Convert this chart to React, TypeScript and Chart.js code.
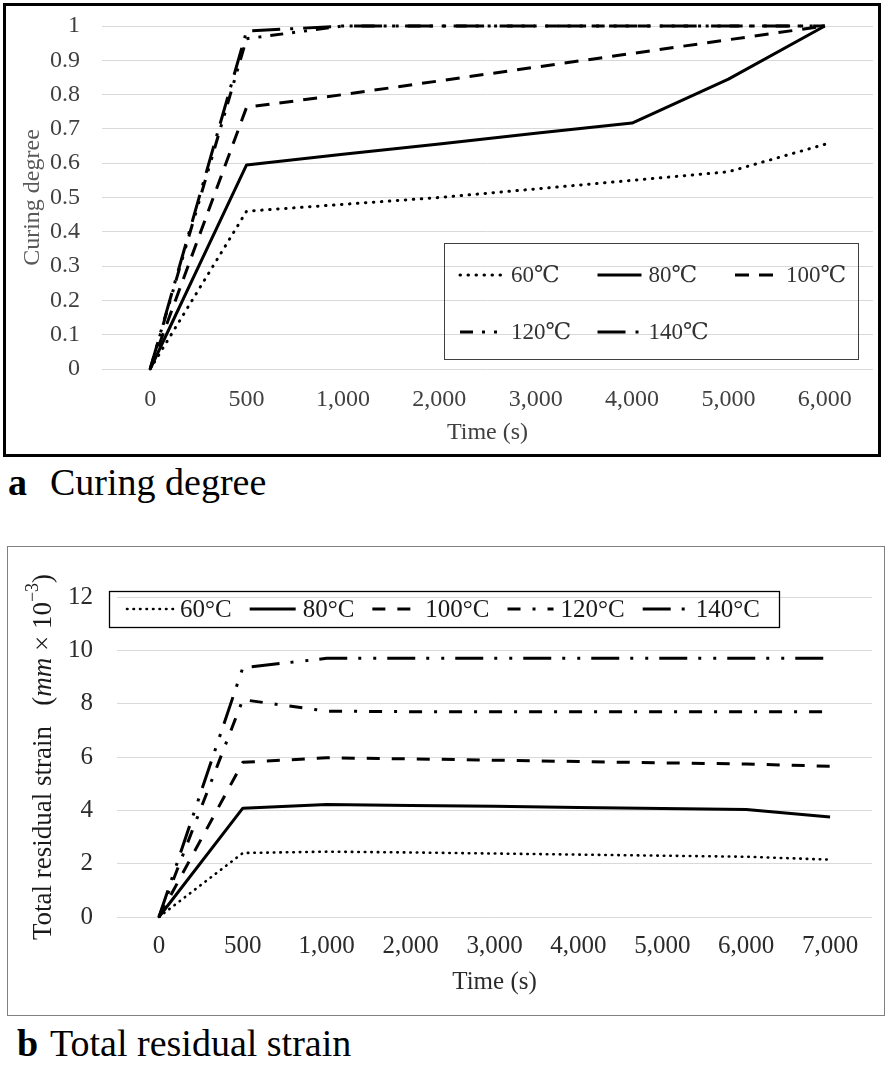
import React, { useEffect, useRef } from 'react';
import { Chart, registerables } from 'chart.js';

Chart.register(...registerables);

const SERIF = "'Liberation Serif', 'Times New Roman', 'DejaVu Serif', serif";

// ---------- Panel a: curing degree ----------
const timeLabelsA = ['0', '500', '1,000', '2,000', '3,000', '4,000', '5,000', '6,000'];
const yTicksA = ['0', '0.1', '0.2', '0.3', '0.4', '0.5', '0.6', '0.7', '0.8', '0.9', '1'];
const seriesNamesA = ['60℃', '80℃', '100℃', '120℃', '140℃'];
const cure60 = [0, 0.46, 0.48, 0.5, 0.525, 0.55, 0.575, 0.655];
const cure80 = [0, 0.595, 0.626, 0.656, 0.687, 0.717, 0.845, 1.0];
const cure100 = [0, 0.763, 0.8, 0.84, 0.88, 0.92, 0.96, 1.0];
const cure120 = [0, 0.963, 1, 1, 1, 1, 1, 1];
const cure140 = [0, 0.985, 1, 1, 1, 1, 1, 1];

// ---------- Panel b: total residual strain ----------
const timeLabelsB = ['0', '500', '1,000', '2,000', '3,000', '4,000', '5,000', '6,000', '7,000'];
const yTicksB = ['0', '2', '4', '6', '8', '10', '12'];
const seriesNamesB = ['60°C', '80°C', '100°C', '120°C', '140°C'];
const strain60 = [0, 2.4, 2.45, 2.42, 2.38, 2.34, 2.3, 2.26, 2.15];
const strain80 = [0, 4.08, 4.22, 4.18, 4.15, 4.11, 4.07, 4.03, 3.75];
const strain100 = [0, 5.8, 5.97, 5.93, 5.88, 5.83, 5.78, 5.74, 5.65];
const strain120 = [0, 8.15, 7.72, 7.7, 7.7, 7.7, 7.7, 7.7, 7.7];
const strain140 = [0, 9.35, 9.7, 9.7, 9.7, 9.7, 9.7, 9.7, 9.7];

type LineStyle = { dash: number[]; width: number; cap: CanvasLineCap };

const stylesA: LineStyle[] = [
  { dash: [0.5, 7.5], width: 3, cap: 'round' },
  { dash: [], width: 3, cap: 'butt' },
  { dash: [14, 10], width: 3, cap: 'butt' },
  { dash: [13, 9, 3, 9, 3, 9], width: 3, cap: 'butt' },
  { dash: [28, 10, 3, 10], width: 3, cap: 'butt' },
];

const stylesB: LineStyle[] = [
  { dash: [0.5, 6], width: 2.6, cap: 'round' },
  { dash: [], width: 3, cap: 'butt' },
  { dash: [13, 12], width: 3, cap: 'butt' },
  { dash: [13, 12, 3, 12], width: 3, cap: 'butt' },
  { dash: [28, 11, 3, 12, 3, 11], width: 3, cap: 'butt' },
];

function makeDatasets(names: string[], series: number[][], styles: LineStyle[]) {
  return names.map((name, i) => ({
    label: name,
    data: series[i],
    borderColor: '#000',
    backgroundColor: '#000',
    borderWidth: styles[i].width,
    borderDash: styles[i].dash,
    borderCapStyle: styles[i].cap,
    borderJoinStyle: 'round' as CanvasLineJoin,
    pointRadius: 0,
    tension: 0,
    fill: false,
    clip: false as any,
  }));
}

type LegendCfg = {
  box: { x: number; y: number; w: number; h: number };
  borderColor: string;
  borderWidth: number;
  font: string;
  color: string;
  sampleLen: number;
  textGap: number;
  mode: 'grid' | 'flow';
  x0: number;
  rows?: number[];
  cols?: number;
  colW?: number;
  rowY?: number;
  itemGap?: number;
};

function makeLegendPlugin(cfg: LegendCfg) {
  return {
    id: 'boxLegend',
    afterDatasetsDraw(chart: any) {
      const ctx: CanvasRenderingContext2D = chart.ctx;
      ctx.save();
      ctx.strokeStyle = cfg.borderColor;
      ctx.lineWidth = cfg.borderWidth;
      ctx.setLineDash([]);
      ctx.strokeRect(cfg.box.x + 0.5, cfg.box.y + 0.5, cfg.box.w, cfg.box.h);
      ctx.font = cfg.font;
      ctx.textBaseline = 'middle';
      ctx.textAlign = 'left';
      let flowX = cfg.x0;
      chart.data.datasets.forEach((ds: any, i: number) => {
        let x: number;
        let y: number;
        if (cfg.mode === 'grid') {
          const col = i % (cfg.cols as number);
          const row = Math.floor(i / (cfg.cols as number));
          x = cfg.x0 + col * (cfg.colW as number);
          y = (cfg.rows as number[])[row];
        } else {
          x = flowX;
          y = cfg.rowY as number;
        }
        ctx.save();
        ctx.strokeStyle = ds.borderColor;
        ctx.lineWidth = ds.borderWidth;
        ctx.lineCap = ds.borderCapStyle;
        ctx.setLineDash(ds.borderDash || []);
        ctx.beginPath();
        ctx.moveTo(x, y);
        ctx.lineTo(x + cfg.sampleLen, y);
        ctx.stroke();
        ctx.restore();
        ctx.fillStyle = cfg.color;
        const tx = x + cfg.sampleLen + cfg.textGap;
        ctx.fillText(ds.label, tx, y + 1);
        if (cfg.mode === 'flow') {
          flowX = tx + ctx.measureText(ds.label).width + (cfg.itemGap as number);
        }
      });
      ctx.restore();
    },
  };
}

type Part = { text: string; italic?: boolean; sup?: boolean };

function makeRichTitlePlugin(parts: Part[], x: number, size: number, color: string) {
  const fontFor = (p: Part) =>
    `${p.italic ? 'italic ' : ''}${p.sup ? Math.round(size * 0.68) : size}px ${SERIF}`;
  return {
    id: 'richYTitle',
    afterDraw(chart: any) {
      const ctx: CanvasRenderingContext2D = chart.ctx;
      const area = chart.chartArea;
      ctx.save();
      const widths = parts.map((p) => {
        ctx.font = fontFor(p);
        return ctx.measureText(p.text).width;
      });
      const total = widths.reduce((a, b) => a + b, 0);
      const cy = (area.top + area.bottom) / 2;
      ctx.translate(x, cy);
      ctx.rotate(-Math.PI / 2);
      ctx.fillStyle = color;
      ctx.textBaseline = 'middle';
      ctx.textAlign = 'left';
      let px = -total / 2;
      parts.forEach((p, i) => {
        ctx.font = fontFor(p);
        ctx.fillText(p.text, px, p.sup ? -size * 0.38 : 0);
        px += widths[i];
      });
      ctx.restore();
    },
  };
}

function CurvePanel() {
  const ref = useRef<HTMLCanvasElement | null>(null);
  useEffect(() => {
    const tickColor = '#404040';
    const chart = new Chart(ref.current as HTMLCanvasElement, {
      type: 'line',
      data: {
        labels: timeLabelsA,
        datasets: makeDatasets(seriesNamesA, [cure60, cure80, cure100, cure120, cure140], stylesA) as any,
      },
      options: {
        responsive: false,
        animation: false,
        layout: { padding: { left: 0, top: 20, right: 5, bottom: 0 } },
        plugins: { legend: { display: false }, tooltip: { enabled: false } },
        scales: {
          x: {
            type: 'category',
            offset: true,
            grid: { display: false, drawTicks: false },
            border: { display: false },
            ticks: {
              autoSkip: false,
              maxRotation: 0,
              padding: 16,
              color: tickColor,
              font: { family: SERIF, size: 24 },
            },
            title: {
              display: true,
              text: 'Time (s)',
              color: '#404040',
              font: { family: SERIF, size: 24 },
              padding: { top: 0, bottom: 7 },
            },
            afterFit: (s: any) => {
              s.height = 85;
            },
          },
          y: {
            type: 'linear',
            min: 0,
            max: 1,
            grid: { color: '#d9d9d9', lineWidth: 1, drawTicks: false },
            border: { display: false },
            ticks: {
              stepSize: 0.1,
              padding: 22,
              color: tickColor,
              font: { family: SERIF, size: 24 },
              callback: (v: any, i: number) => yTicksA[i] ?? String(v),
            },
            title: {
              display: true,
              text: 'Curing degree',
              color: '#595959',
              font: { family: SERIF, size: 24 },
              padding: { top: 12, bottom: 0 },
            },
            afterFit: (s: any) => {
              s.width = 96;
              s.paddingTop = 0;
              s.paddingBottom = 0;
            },
          },
        },
      } as any,
      plugins: [
        makeLegendPlugin({
          box: { x: 438, y: 237, w: 414, h: 116 },
          borderColor: '#404040',
          borderWidth: 1,
          font: `23px ${SERIF}`,
          color: '#333333',
          sampleLen: 44,
          textGap: 7,
          mode: 'grid',
          x0: 454,
          cols: 3,
          colW: 137.5,
          rows: [269, 326],
        }),
      ],
    });
    return () => chart.destroy();
  }, []);
  return (
    <canvas
      ref={ref}
      width={872}
      height={448}
      style={{ position: 'absolute', left: 6, top: 6, width: 872, height: 448 }}
    />
  );
}

function StrainPanel() {
  const ref = useRef<HTMLCanvasElement | null>(null);
  useEffect(() => {
    const tickColor = '#2b2b2b';
    const chart = new Chart(ref.current as HTMLCanvasElement, {
      type: 'line',
      data: {
        labels: timeLabelsB,
        datasets: makeDatasets(
          seriesNamesB,
          [strain60, strain80, strain100, strain120, strain140],
          stylesB
        ) as any,
      },
      options: {
        responsive: false,
        animation: false,
        layout: { padding: { left: 0, top: 49, right: 11, bottom: 0 } },
        plugins: { legend: { display: false }, tooltip: { enabled: false } },
        scales: {
          x: {
            type: 'category',
            offset: true,
            grid: { display: false, drawTicks: false },
            border: { display: false },
            ticks: {
              autoSkip: false,
              maxRotation: 0,
              padding: 14,
              color: tickColor,
              font: { family: SERIF, size: 25 },
            },
            title: {
              display: true,
              text: 'Time (s)',
              color: tickColor,
              font: { family: SERIF, size: 25 },
              padding: { top: 0, bottom: 17 },
            },
            afterFit: (s: any) => {
              s.height = 97;
            },
          },
          y: {
            type: 'linear',
            min: 0,
            max: 12,
            grid: { color: '#d9d9d9', lineWidth: 1, drawTicks: false },
            border: { display: false },
            ticks: {
              stepSize: 2,
              padding: 24,
              color: tickColor,
              font: { family: SERIF, size: 25 },
              callback: (v: any, i: number) => yTicksB[i] ?? String(v),
            },
            title: { display: false },
            afterFit: (s: any) => {
              s.width = 108;
              s.paddingTop = 0;
              s.paddingBottom = 0;
            },
          },
        },
      } as any,
      plugins: [
        makeLegendPlugin({
          box: { x: 100, y: 43, w: 670, h: 36 },
          borderColor: '#000',
          borderWidth: 1.3,
          font: `25px ${SERIF}`,
          color: '#1a1a1a',
          sampleLen: 46,
          textGap: 7,
          mode: 'flow',
          x0: 118,
          rowY: 61,
          itemGap: 18,
        }),
        makeRichTitlePlugin(
          [
            { text: 'Total residual strain   (' },
            { text: 'mm', italic: true },
            { text: ' × 10' },
            { text: '−3', sup: true },
            { text: ')' },
          ],
          35,
          27,
          '#1a1a1a'
        ),
      ],
    });
    return () => chart.destroy();
  }, []);
  return (
    <canvas
      ref={ref}
      width={874}
      height={466}
      style={{ position: 'absolute', left: 9, top: 548, width: 874, height: 466 }}
    />
  );
}

export default function App() {
  const caption: React.CSSProperties = {
    position: 'absolute',
    fontFamily: SERIF,
    fontSize: 38,
    lineHeight: '38px',
    whiteSpace: 'pre',
    color: '#000',
  };
  return (
    <div
      style={{
        position: 'absolute',
        left: 0,
        top: 0,
        width: 890,
        height: 1067,
        background: '#fff',
        overflow: 'hidden',
      }}
    >
      <div
        style={{
          position: 'absolute',
          left: 3,
          top: 3,
          width: 878,
          height: 454,
          border: '3px solid #000',
          boxSizing: 'border-box',
        }}
      />
      <CurvePanel />
      <div style={{ ...caption, left: 8, top: 463 }}>
        <b>a</b>
      </div>
      <div style={{ ...caption, left: 50, top: 463 }}>Curing degree</div>

      <div
        style={{
          position: 'absolute',
          left: 7,
          top: 546,
          width: 878,
          height: 470,
          border: '1.5px solid #808080',
          boxSizing: 'border-box',
        }}
      />
      <StrainPanel />
      <div style={{ ...caption, left: 17, top: 1024 }}>
        <b>b</b>
      </div>
      <div style={{ ...caption, left: 50, top: 1024 }}>Total residual strain</div>
    </div>
  );
}
